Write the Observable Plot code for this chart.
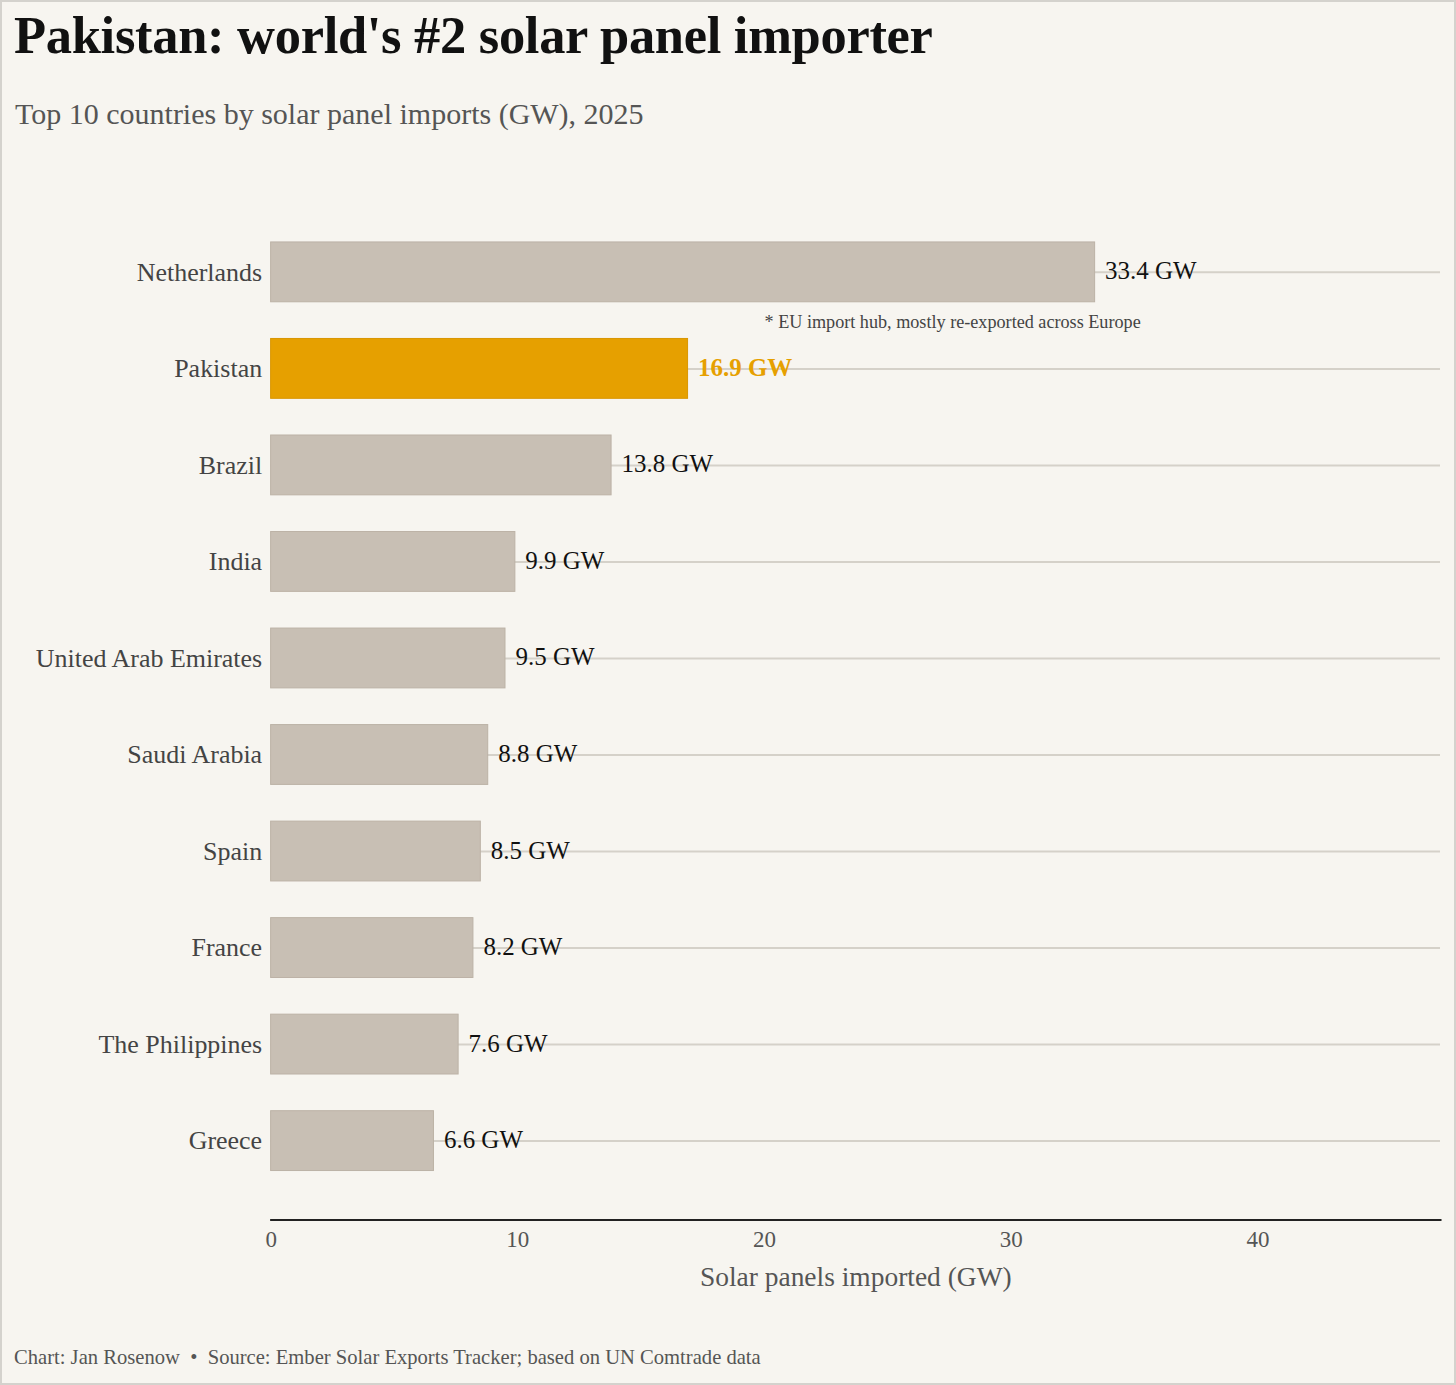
<!DOCTYPE html>
<html>
<head>
<meta charset="utf-8">
<script src="https://cdn.jsdelivr.net/npm/d3@7"></script>
<script src="https://cdn.jsdelivr.net/npm/@observablehq/plot@0.6"></script>
<style>
  html, body { margin: 0; padding: 0; background: #f7f5f0; }
  #page {
    position: relative; width: 1456px; height: 1385px; box-sizing: border-box;
    border: 2px solid #d4d2cd; background: #f7f5f0; overflow: hidden;
    font-family: "Liberation Serif", "DejaVu Serif", serif;
  }
  #title { position: absolute; left: 12px; top: 3px; font-size: 52.5px; font-weight: bold; color: #111; white-space: nowrap; letter-spacing: -0.3px; }
  #subtitle { position: absolute; left: 13px; top: 95px; font-size: 30px; color: #555; white-space: nowrap; }
  #chart { position: absolute; left: -2px; top: 148px; }
  #caption { position: absolute; left: 12px; top: 1344px; font-size: 20.6px; color: #555; white-space: nowrap; }
</style>
</head>
<body>
<div id="page">
  <div id="title">Pakistan: world's #2 solar panel importer</div>
  <div id="subtitle">Top 10 countries by solar panel imports (GW), 2025</div>
  <div id="chart"></div>
  <div id="caption">Chart: Jan Rosenow&nbsp; •&nbsp; Source: Ember Solar Exports Tracker; based on UN Comtrade data</div>
</div>
<script>
// Solar panel imports, 2025 (GW)
const countries = ["Netherlands", "Pakistan", "Brazil", "India", "United Arab Emirates",
                   "Saudi Arabia", "Spain", "France", "The Philippines", "Greece"];
const importsGW = [33.4, 16.9, 13.8, 9.9, 9.5, 8.8, 8.5, 8.2, 7.6, 6.6];
const highlighted = "Pakistan";
const xTicks = [0, 10, 20, 30, 40];
const xLabel = "Solar panels imported (GW)";
const note = "* EU import hub, mostly re-exported across Europe";
const noteCountry = "Netherlands";
const noteX = 20;

const data = countries.map((country, i) => ({country, value: importsGW[i]}));
const others = data.filter(d => d.country !== highlighted);
const focus = data.filter(d => d.country === highlighted);

const barColor = "#c8bfb4";
const highlightColor = "#e6a000";
const font = "Liberation Serif, DejaVu Serif, serif";

const labelOpts = {x: "value", y: "country", text: d => `${d.value} GW`, dx: 10, dy: -1, textAnchor: "start", fontSize: 25};

const chart = Plot.plot({
  width: 1456,
  height: 1160,
  marginLeft: 271,
  marginRight: 14,
  marginTop: 0,
  marginBottom: 89,
  style: {fontFamily: font, background: "transparent", overflow: "visible"},
  x: {domain: [0, 47.4], ticks: xTicks},
  y: {domain: countries, range: [73.7, 1040.3], paddingInner: 0.38, paddingOuter: 0.19, round: false},
  marks: [
    Plot.ruleY(data, {y: "country", stroke: "#d5d1c9", strokeWidth: 2}),
    Plot.barX(data, {
      x: "value", y: "country",
      fill: d => d.country === highlighted ? highlightColor : barColor,
      stroke: d => d.country === highlighted ? "#d99600" : "#bcb2a6",
      strokeWidth: 1
    }),
    Plot.text(others, {...labelOpts, fill: "#111"}),
    Plot.text(focus, {...labelOpts, fill: highlightColor, fontWeight: "bold"}),
    Plot.text([note], {
      x: () => noteX, y: () => noteCountry, text: d => d,
      dy: 50, textAnchor: "start", fontSize: 18.2, fill: "#444"
    }),
    Plot.frame({anchor: "bottom", stroke: "#222", strokeWidth: 2}),
    Plot.axisY({tickSize: 0, tickPadding: 9, fontSize: 26, color: "#444", label: null}),
    Plot.axisX({tickSize: 0, tickPadding: 11, fontSize: 23, color: "#555", label: null, ticks: xTicks}),
    Plot.text([xLabel], {frameAnchor: "bottom", text: d => d, dy: 66, fontSize: 27.5, fill: "#555"})
  ]
});

document.getElementById("chart").appendChild(chart);
</script>
</body>
</html>
